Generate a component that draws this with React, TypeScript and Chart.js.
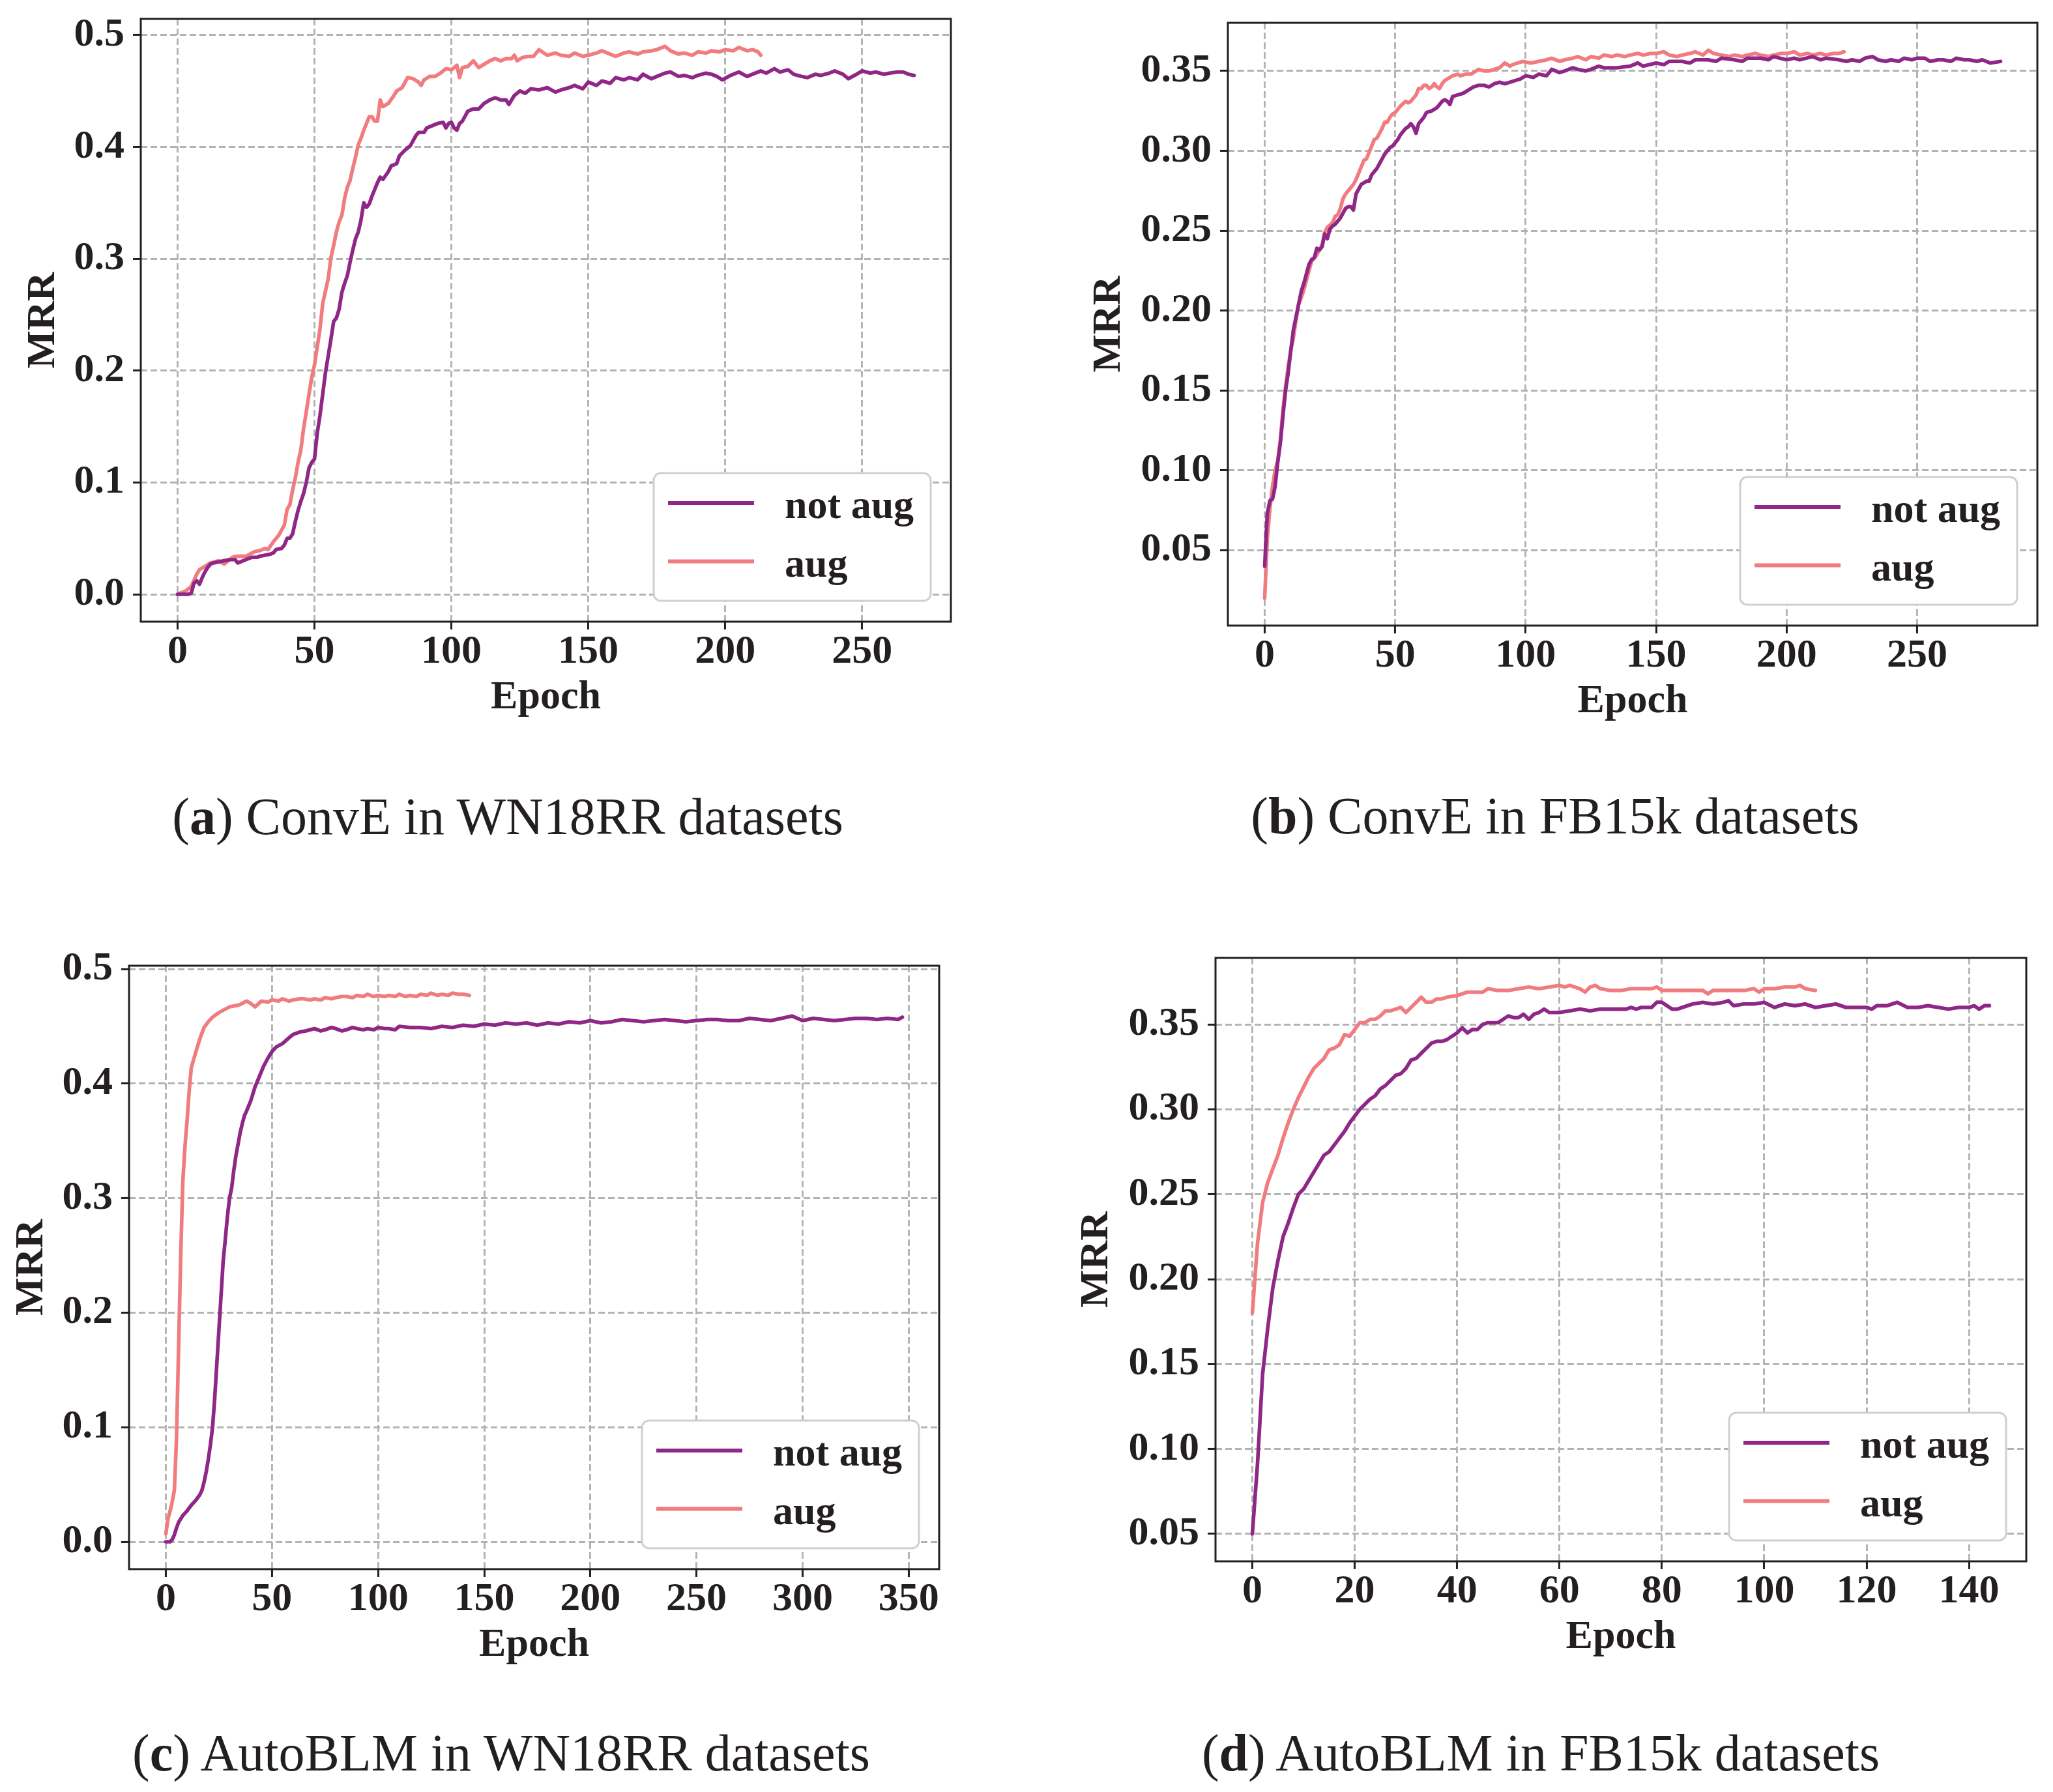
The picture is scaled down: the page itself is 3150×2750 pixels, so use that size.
import { useEffect, useRef } from 'react'
import Chart from 'chart.js/auto'

// ---------- data: [epoch, MRR] ----------

const convEWnNotAug: [number, number][] = [
  [0, 0], [2, 0], [4, 0], [5, 0.001], [6, 0.01], [7, 0.012], [8, 0.009], [9, 0.015], [10, 0.02], [11, 0.024],
  [12, 0.027], [13, 0.028], [15, 0.029], [17, 0.03], [19, 0.031], [21, 0.031], [22, 0.028], [23, 0.029], [25, 0.031],
  [27, 0.033], [29, 0.033], [30, 0.034], [32, 0.035], [34, 0.036], [35, 0.037], [36, 0.04], [38, 0.041], [39, 0.044],
  [40, 0.05], [41, 0.05], [42, 0.054], [43, 0.065], [44, 0.075], [45, 0.083], [46, 0.09], [47, 0.1], [48, 0.113],
  [49, 0.118], [50, 0.121], [51, 0.144], [52, 0.16], [53, 0.179], [54, 0.198], [55, 0.213], [56, 0.228], [57, 0.244],
  [58, 0.247], [59, 0.255], [60, 0.27], [61, 0.278], [62, 0.285], [63, 0.297], [64, 0.308], [65, 0.318], [66, 0.324],
  [67, 0.335], [68, 0.35], [69, 0.346], [70, 0.349], [71, 0.356], [72, 0.362], [73, 0.368], [74, 0.373], [75, 0.371],
  [77, 0.378], [78, 0.383], [80, 0.385], [81, 0.392], [83, 0.397], [85, 0.401], [87, 0.41], [88, 0.413], [90, 0.413],
  [91, 0.417], [93, 0.419], [95, 0.421], [97, 0.422], [98, 0.417], [99, 0.421], [100, 0.422], [101, 0.417], [102, 0.415],
  [103, 0.421], [104, 0.423], [106, 0.432], [108, 0.434], [110, 0.434], [112, 0.439], [114, 0.442], [116, 0.444],
  [118, 0.442], [120, 0.442], [121, 0.438], [123, 0.446], [125, 0.45], [127, 0.448], [129, 0.452], [132, 0.451],
  [135, 0.453], [138, 0.449], [140, 0.451], [143, 0.453], [145, 0.455], [148, 0.452], [150, 0.458], [153, 0.455],
  [155, 0.459], [158, 0.457], [160, 0.462], [163, 0.46], [165, 0.462], [168, 0.46], [170, 0.465], [173, 0.461],
  [175, 0.463], [178, 0.466], [180, 0.467], [183, 0.463], [185, 0.464], [188, 0.462], [190, 0.464], [193, 0.466],
  [195, 0.465], [197, 0.463], [199, 0.46], [202, 0.464], [205, 0.467], [208, 0.463], [210, 0.465], [213, 0.468],
  [215, 0.466], [218, 0.47], [220, 0.467], [223, 0.469], [225, 0.465], [228, 0.463], [230, 0.462], [233, 0.465],
  [235, 0.464], [238, 0.466], [240, 0.468], [243, 0.465], [245, 0.461], [248, 0.465], [250, 0.468], [253, 0.466],
  [255, 0.467], [258, 0.465], [260, 0.466], [263, 0.467], [265, 0.467], [267, 0.465], [269, 0.464],
]

const convEWnAug: [number, number][] = [
  [0, 0], [3, 0.003], [5, 0.007], [7, 0.018], [8, 0.022], [10, 0.025], [12, 0.028], [15, 0.03], [17, 0.027],
  [20, 0.033], [22, 0.034], [25, 0.034], [28, 0.038], [30, 0.039], [32, 0.041], [33, 0.04], [35, 0.047], [37, 0.053],
  [39, 0.062], [40, 0.076], [41, 0.08], [42, 0.093], [43, 0.104], [44, 0.118], [45, 0.129], [46, 0.148], [47, 0.163],
  [48, 0.179], [49, 0.194], [50, 0.205], [51, 0.221], [52, 0.237], [53, 0.26], [54, 0.271], [55, 0.282], [56, 0.301],
  [57, 0.312], [58, 0.324], [59, 0.333], [60, 0.339], [61, 0.354], [62, 0.364], [63, 0.37], [64, 0.381], [65, 0.391],
  [66, 0.402], [67, 0.408], [68, 0.415], [70, 0.427], [71, 0.427], [72, 0.423], [73, 0.423], [74, 0.442], [75, 0.436],
  [77, 0.439], [79, 0.446], [80, 0.45], [82, 0.453], [84, 0.462], [86, 0.461], [88, 0.458], [89, 0.455], [90, 0.46],
  [92, 0.463], [94, 0.463], [96, 0.466], [98, 0.47], [100, 0.469], [101, 0.471], [102, 0.473], [103, 0.462],
  [104, 0.471], [106, 0.472], [108, 0.477], [110, 0.471], [112, 0.474], [114, 0.477], [116, 0.479], [118, 0.477],
  [120, 0.479], [122, 0.479], [123, 0.482], [124, 0.477], [126, 0.48], [128, 0.481], [130, 0.481], [132, 0.487],
  [135, 0.482], [138, 0.484], [140, 0.482], [143, 0.481], [145, 0.484], [148, 0.481], [150, 0.482], [153, 0.484],
  [155, 0.486], [158, 0.483], [160, 0.481], [163, 0.484], [165, 0.485], [168, 0.483], [170, 0.485], [173, 0.486],
  [175, 0.487], [178, 0.49], [180, 0.486], [183, 0.483], [185, 0.484], [188, 0.482], [190, 0.485], [193, 0.484],
  [195, 0.486], [198, 0.485], [200, 0.487], [203, 0.486], [205, 0.489], [208, 0.486], [210, 0.487], [212, 0.485],
  [213, 0.482],
]

const convEFbNotAug: [number, number][] = [
  [0, 0.04], [1, 0.073], [2, 0.081], [3, 0.082], [4, 0.09], [5, 0.105], [6, 0.117], [7, 0.134], [8, 0.15], [9, 0.161],
  [10, 0.175], [11, 0.188], [12, 0.196], [13, 0.204], [14, 0.212], [15, 0.217], [16, 0.223], [17, 0.229], [18, 0.232],
  [19, 0.233], [20, 0.239], [21, 0.238], [22, 0.24], [23, 0.248], [24, 0.245], [25, 0.251], [26, 0.253], [27, 0.254],
  [28, 0.256], [29, 0.258], [30, 0.261], [31, 0.264], [32, 0.265], [33, 0.265], [34, 0.263], [35, 0.273], [36, 0.276],
  [37, 0.279], [38, 0.28], [39, 0.281], [40, 0.281], [41, 0.285], [42, 0.287], [43, 0.289], [44, 0.292], [45, 0.295],
  [46, 0.298], [47, 0.3], [48, 0.302], [49, 0.303], [50, 0.305], [51, 0.307], [52, 0.31], [53, 0.312], [54, 0.314],
  [55, 0.315], [56, 0.317], [57, 0.315], [58, 0.311], [59, 0.317], [60, 0.319], [61, 0.321], [62, 0.324], [64, 0.325],
  [66, 0.327], [67, 0.329], [68, 0.331], [69, 0.332], [70, 0.331], [71, 0.329], [72, 0.334], [74, 0.335], [76, 0.336],
  [77, 0.337], [78, 0.338], [80, 0.34], [82, 0.341], [84, 0.341], [86, 0.34], [88, 0.342], [90, 0.343], [92, 0.342],
  [94, 0.343], [96, 0.344], [98, 0.345], [100, 0.347], [103, 0.346], [105, 0.348], [108, 0.347], [110, 0.351],
  [113, 0.349], [115, 0.35], [118, 0.352], [120, 0.351], [123, 0.35], [125, 0.351], [128, 0.353], [130, 0.352],
  [135, 0.352], [140, 0.353], [143, 0.355], [145, 0.353], [150, 0.355], [153, 0.354], [155, 0.356], [160, 0.356],
  [163, 0.355], [165, 0.357], [170, 0.357], [173, 0.356], [175, 0.358], [180, 0.357], [183, 0.356], [185, 0.358],
  [190, 0.358], [193, 0.357], [195, 0.359], [200, 0.357], [203, 0.358], [205, 0.357], [210, 0.359], [213, 0.357],
  [215, 0.358], [220, 0.357], [223, 0.356], [225, 0.357], [228, 0.356], [230, 0.358], [233, 0.359], [235, 0.357],
  [238, 0.356], [240, 0.357], [243, 0.356], [245, 0.358], [248, 0.357], [250, 0.358], [253, 0.358], [255, 0.356],
  [258, 0.357], [260, 0.357], [263, 0.356], [265, 0.358], [268, 0.357], [270, 0.357], [273, 0.356], [275, 0.357],
  [278, 0.355], [282, 0.356],
]

const convEFbAug: [number, number][] = [
  [0, 0.02], [1, 0.057], [2, 0.076], [3, 0.09], [4, 0.1], [5, 0.106], [6, 0.119], [7, 0.138], [8, 0.152], [9, 0.165],
  [10, 0.175], [11, 0.183], [12, 0.194], [13, 0.204], [14, 0.208], [15, 0.213], [16, 0.219], [17, 0.225], [18, 0.231],
  [20, 0.235], [21, 0.238], [22, 0.241], [23, 0.249], [24, 0.252], [26, 0.255], [27, 0.259], [28, 0.26], [29, 0.264],
  [30, 0.27], [31, 0.273], [32, 0.275], [33, 0.277], [34, 0.279], [35, 0.282], [36, 0.286], [37, 0.29], [38, 0.294],
  [39, 0.295], [40, 0.299], [41, 0.303], [42, 0.307], [43, 0.308], [44, 0.311], [45, 0.314], [46, 0.318], [47, 0.318],
  [48, 0.321], [49, 0.323], [50, 0.324], [52, 0.328], [54, 0.331], [55, 0.33], [56, 0.331], [57, 0.333], [58, 0.335],
  [59, 0.339], [60, 0.339], [61, 0.341], [62, 0.341], [63, 0.339], [64, 0.34], [65, 0.342], [66, 0.34], [67, 0.339],
  [68, 0.342], [69, 0.344], [70, 0.345], [72, 0.347], [74, 0.348], [75, 0.347], [77, 0.348], [79, 0.348], [80, 0.349],
  [82, 0.351], [84, 0.35], [86, 0.35], [88, 0.351], [90, 0.352], [92, 0.355], [94, 0.353], [95, 0.354], [97, 0.355],
  [99, 0.356], [102, 0.355], [105, 0.356], [108, 0.357], [110, 0.358], [113, 0.356], [115, 0.357], [118, 0.358],
  [120, 0.359], [123, 0.357], [125, 0.359], [128, 0.358], [130, 0.36], [133, 0.359], [135, 0.36], [138, 0.359],
  [140, 0.36], [143, 0.361], [145, 0.36], [148, 0.361], [150, 0.361], [153, 0.362], [155, 0.36], [158, 0.359],
  [160, 0.36], [163, 0.361], [165, 0.362], [168, 0.36], [170, 0.363], [172, 0.361], [175, 0.36], [178, 0.359],
  [180, 0.36], [183, 0.359], [185, 0.36], [188, 0.361], [190, 0.36], [193, 0.359], [195, 0.36], [198, 0.361],
  [200, 0.361], [203, 0.362], [205, 0.36], [208, 0.361], [210, 0.36], [213, 0.361], [215, 0.36], [218, 0.361],
  [220, 0.361], [222, 0.362],
]

const autoBlmWnNotAug: [number, number][] = [
  [0, 0], [2, 0], [3, 0.002], [4, 0.006], [5, 0.012], [6, 0.017], [8, 0.023], [10, 0.027], [12, 0.032], [14, 0.036],
  [16, 0.041], [17, 0.045], [18, 0.052], [19, 0.061], [20, 0.072], [21, 0.085], [22, 0.1], [23, 0.125], [24, 0.155],
  [25, 0.185], [26, 0.215], [27, 0.245], [28, 0.264], [29, 0.284], [30, 0.3], [31, 0.309], [32, 0.324], [33, 0.337],
  [34, 0.347], [35, 0.357], [36, 0.365], [37, 0.372], [38, 0.376], [40, 0.385], [42, 0.397], [44, 0.406], [46, 0.415],
  [48, 0.422], [50, 0.428], [52, 0.432], [55, 0.435], [58, 0.44], [60, 0.443], [63, 0.445], [66, 0.446], [70, 0.448],
  [73, 0.446], [75, 0.447], [78, 0.449], [80, 0.448], [83, 0.446], [85, 0.447], [88, 0.449], [90, 0.448], [93, 0.447],
  [95, 0.448], [98, 0.447], [100, 0.449], [103, 0.448], [105, 0.448], [108, 0.447], [110, 0.45], [115, 0.449],
  [120, 0.449], [125, 0.448], [130, 0.45], [135, 0.449], [140, 0.451], [145, 0.45], [150, 0.452], [155, 0.451],
  [160, 0.453], [165, 0.452], [170, 0.453], [175, 0.451], [180, 0.453], [185, 0.452], [190, 0.454], [195, 0.453],
  [200, 0.455], [205, 0.453], [210, 0.454], [215, 0.456], [220, 0.455], [225, 0.454], [230, 0.455], [235, 0.456],
  [240, 0.455], [245, 0.454], [250, 0.455], [255, 0.456], [260, 0.456], [265, 0.455], [270, 0.455], [275, 0.457],
  [280, 0.456], [285, 0.455], [290, 0.457], [295, 0.459], [300, 0.455], [305, 0.457], [310, 0.456], [315, 0.455],
  [320, 0.456], [325, 0.457], [330, 0.457], [335, 0.456], [340, 0.457], [345, 0.456], [347, 0.458],
]

const autoBlmWnAug: [number, number][] = [
  [0, 0.007], [1, 0.02], [2, 0.027], [3, 0.035], [4, 0.045], [5, 0.09], [6, 0.17], [7, 0.25], [8, 0.315], [9, 0.345],
  [10, 0.368], [11, 0.394], [12, 0.414], [14, 0.427], [16, 0.439], [18, 0.449], [20, 0.454], [22, 0.458], [25, 0.462],
  [28, 0.465], [30, 0.467], [33, 0.468], [35, 0.469], [38, 0.472], [40, 0.47], [42, 0.467], [45, 0.472], [48, 0.471],
  [50, 0.473], [53, 0.472], [55, 0.474], [58, 0.472], [60, 0.473], [63, 0.474], [65, 0.474], [68, 0.473], [70, 0.474],
  [73, 0.473], [75, 0.475], [78, 0.474], [80, 0.475], [83, 0.476], [85, 0.476], [88, 0.475], [90, 0.477], [93, 0.476],
  [95, 0.478], [98, 0.476], [100, 0.477], [103, 0.476], [105, 0.477], [108, 0.476], [110, 0.478], [113, 0.476],
  [115, 0.477], [118, 0.476], [120, 0.478], [123, 0.477], [125, 0.479], [128, 0.477], [130, 0.478], [133, 0.477],
  [135, 0.479], [138, 0.478], [140, 0.478], [143, 0.477],
]

const autoBlmFbNotAug: [number, number][] = [
  [0, 0.05], [1, 0.091], [2, 0.144], [3, 0.171], [4, 0.195], [5, 0.211], [6, 0.225], [7, 0.233], [8, 0.242], [9, 0.25],
  [10, 0.253], [11, 0.258], [12, 0.263], [13, 0.268], [14, 0.273], [15, 0.275], [16, 0.279], [17, 0.283], [18, 0.287],
  [19, 0.292], [20, 0.296], [21, 0.3], [22, 0.303], [23, 0.306], [24, 0.308], [25, 0.312], [26, 0.314], [27, 0.317],
  [28, 0.32], [29, 0.321], [30, 0.324], [31, 0.329], [32, 0.33], [33, 0.333], [34, 0.336], [35, 0.339], [36, 0.34],
  [37, 0.34], [38, 0.341], [39, 0.343], [40, 0.345], [41, 0.348], [42, 0.345], [43, 0.347], [44, 0.347], [45, 0.35],
  [46, 0.351], [47, 0.351], [48, 0.351], [49, 0.353], [50, 0.355], [51, 0.354], [52, 0.354], [53, 0.356], [54, 0.353],
  [55, 0.356], [56, 0.357], [57, 0.359], [58, 0.357], [59, 0.357], [60, 0.357], [62, 0.358], [64, 0.359], [66, 0.358],
  [68, 0.359], [70, 0.359], [72, 0.359], [73, 0.359], [74, 0.36], [75, 0.359], [76, 0.36], [78, 0.36], [79, 0.363],
  [80, 0.363], [82, 0.359], [83, 0.359], [84, 0.36], [86, 0.362], [88, 0.363], [90, 0.362], [92, 0.363], [93, 0.364],
  [94, 0.361], [96, 0.362], [98, 0.362], [100, 0.363], [102, 0.36], [104, 0.362], [106, 0.361], [108, 0.362],
  [110, 0.36], [112, 0.361], [114, 0.362], [116, 0.36], [118, 0.36], [120, 0.36], [121, 0.359], [122, 0.361],
  [124, 0.361], [125, 0.362], [126, 0.363], [128, 0.36], [130, 0.36], [132, 0.361], [134, 0.36], [136, 0.359],
  [138, 0.36], [140, 0.36], [141, 0.361], [142, 0.359], [143, 0.361], [144, 0.361],
]

const autoBlmFbAug: [number, number][] = [
  [0, 0.18], [1, 0.221], [2, 0.245], [3, 0.257], [4, 0.265], [5, 0.273], [6, 0.283], [7, 0.292], [8, 0.3], [9, 0.307],
  [10, 0.313], [11, 0.319], [12, 0.324], [13, 0.327], [14, 0.33], [15, 0.335], [16, 0.336], [17, 0.338], [18, 0.344],
  [19, 0.343], [20, 0.347], [21, 0.351], [22, 0.351], [23, 0.353], [24, 0.353], [25, 0.355], [26, 0.358], [27, 0.358],
  [28, 0.359], [29, 0.36], [30, 0.357], [31, 0.36], [32, 0.363], [33, 0.366], [34, 0.363], [35, 0.363], [36, 0.365],
  [37, 0.365], [38, 0.366], [40, 0.367], [42, 0.369], [43, 0.369], [44, 0.369], [45, 0.369], [46, 0.371], [48, 0.37],
  [50, 0.37], [52, 0.371], [54, 0.372], [56, 0.371], [58, 0.372], [60, 0.373], [61, 0.372], [62, 0.373], [64, 0.371],
  [65, 0.369], [66, 0.372], [67, 0.373], [68, 0.371], [70, 0.37], [72, 0.37], [74, 0.371], [76, 0.371], [78, 0.371],
  [79, 0.372], [80, 0.37], [82, 0.37], [84, 0.37], [86, 0.37], [88, 0.37], [89, 0.368], [90, 0.37], [92, 0.37],
  [94, 0.37], [96, 0.37], [98, 0.371], [99, 0.369], [100, 0.371], [102, 0.371], [104, 0.372], [106, 0.372],
  [107, 0.373], [108, 0.371], [110, 0.37],
]

const epochTicksConvE = [0, 50, 100, 150, 200, 250]
const epochTicksAutoBlmWn = [0, 50, 100, 150, 200, 250, 300, 350]
const epochTicksAutoBlmFb = [0, 20, 40, 60, 80, 100, 120, 140]
const mrrTicksWn = [0, 0.1, 0.2, 0.3, 0.4, 0.5]
const mrrTicksFb = [0.05, 0.1, 0.15, 0.2, 0.25, 0.3, 0.35]

const seriesLabels = ['not aug', 'aug']

// ---------- styles ----------

const SERIF = "'Liberation Serif', 'Times New Roman', serif"
const INK = '#231f20'
const NOT_AUG_COLOR = '#8e2786'
const AUG_COLOR = '#f17c80'
const GRID_COLOR = '#b3b3b3'
const tickFont = { family: SERIF, size: 62, weight: 'bold' as const }

const PAD_TOP = 20
const PAD_RIGHT = 20
const PAD_BOTTOM = 10
const X_AXIS_H = 154

const panels = [
  {
    key: 'a', letter: 'a', caption: ' ConvE in WN18RR datasets',
    plot: { left: 216, top: 29, right: 1459, bottom: 954 }, yAxisW: 186,
    xRange: [-13.45, 282.45], xTicks: epochTicksConvE,
    yRange: [-0.0245, 0.5145], yTicks: mrrTicksWn, decimals: 1,
    series: [convEWnNotAug, convEWnAug],
    captionX: 779, captionBaseline: 1280,
  },
  {
    key: 'b', letter: 'b', caption: ' ConvE in FB15k datasets',
    plot: { left: 1884, top: 35, right: 3126, bottom: 960 }, yAxisW: 219,
    xRange: [-14.1, 296.1], xTicks: epochTicksConvE,
    yRange: [0.00285, 0.38015], yTicks: mrrTicksFb, decimals: 2,
    series: [convEFbNotAug, convEFbAug],
    captionX: 2386, captionBaseline: 1279,
  },
  {
    key: 'c', letter: 'c', caption: ' AutoBLM in WN18RR datasets',
    plot: { left: 198, top: 1482, right: 1441, bottom: 2408 }, yAxisW: 186,
    xRange: [-17.35, 364.35], xTicks: epochTicksAutoBlmWn,
    yRange: [-0.0239, 0.5029], yTicks: mrrTicksWn, decimals: 1,
    series: [autoBlmWnNotAug, autoBlmWnAug],
    captionX: 769, captionBaseline: 2717,
  },
  {
    key: 'd', letter: 'd', caption: ' AutoBLM in FB15k datasets',
    plot: { left: 1865, top: 1470, right: 3109, bottom: 2396 }, yAxisW: 219,
    xRange: [-7.2, 151.2], xTicks: epochTicksAutoBlmFb,
    yRange: [0.03385, 0.38915], yTicks: mrrTicksFb, decimals: 2,
    series: [autoBlmFbNotAug, autoBlmFbAug],
    captionX: 2364, captionBaseline: 2717,
  },
]

type Panel = (typeof panels)[number]

// legend box in the lower right corner of the axes, like matplotlib's loc='lower right'
const insideLegend = {
  id: 'insideLegend',
  afterDatasetsDraw(chart: any) {
    const { ctx, chartArea } = chart
    const w = 425
    const h = 196
    const x = chartArea.right - 31 - w
    const y = chartArea.bottom - 32 - h
    const r = 11
    ctx.save()
    ctx.beginPath()
    ctx.moveTo(x + r, y)
    ctx.arcTo(x + w, y, x + w, y + h, r)
    ctx.arcTo(x + w, y + h, x, y + h, r)
    ctx.arcTo(x, y + h, x, y, r)
    ctx.arcTo(x, y, x + w, y, r)
    ctx.closePath()
    ctx.fillStyle = '#ffffff'
    ctx.fill()
    ctx.lineWidth = 3
    ctx.strokeStyle = '#cfcfcf'
    ctx.stroke()
    chart.data.datasets.forEach((ds: any, i: number) => {
      const rowY = y + 46 + i * 89.5
      ctx.beginPath()
      ctx.moveTo(x + 22, rowY)
      ctx.lineTo(x + 154, rowY)
      ctx.lineWidth = 6
      ctx.strokeStyle = ds.borderColor
      ctx.stroke()
      ctx.font = `bold 62px ${SERIF}`
      ctx.fillStyle = INK
      ctx.textAlign = 'left'
      ctx.textBaseline = 'alphabetic'
      ctx.fillText(ds.label, x + 201, rowY + 23)
    })
    ctx.restore()
  },
}

const axesFrame = {
  id: 'axesFrame',
  afterDraw(chart: any) {
    const { ctx, chartArea } = chart
    ctx.save()
    ctx.lineWidth = 3
    ctx.strokeStyle = INK
    ctx.strokeRect(chartArea.left, chartArea.top, chartArea.right - chartArea.left, chartArea.bottom - chartArea.top)
    ctx.restore()
  },
}

const gridOptions = {
  color: GRID_COLOR,
  lineWidth: 2.9,
  borderDash: [10, 5],
  drawTicks: true,
  tickLength: 12,
  tickColor: INK,
  tickWidth: 3,
  tickBorderDash: [],
}

function MrrPanel({ panel }: { panel: Panel }) {
  const chartRef = useRef<HTMLCanvasElement>(null)
  const chartInstance = useRef<Chart | null>(null)

  const { plot, yAxisW } = panel
  const canvasLeft = plot.left - yAxisW
  const canvasTop = plot.top - PAD_TOP
  const canvasW = yAxisW + (plot.right - plot.left) + PAD_RIGHT
  const canvasH = PAD_TOP + (plot.bottom - plot.top) + X_AXIS_H + PAD_BOTTOM

  useEffect(() => {
    if (!chartRef.current) return
    if (chartInstance.current) chartInstance.current.destroy()

    chartInstance.current = new Chart(chartRef.current, {
      type: 'line',
      data: {
        datasets: panel.series.map((points, i) => ({
          label: seriesLabels[i],
          data: points.map(([x, y]) => ({ x, y })),
          borderColor: i === 0 ? NOT_AUG_COLOR : AUG_COLOR,
          borderWidth: 5.6,
          pointRadius: 0,
          tension: 0,
          fill: false,
          borderJoinStyle: 'round',
          borderCapStyle: 'round',
        })),
      },
      options: {
        responsive: false,
        animation: false,
        devicePixelRatio: 1,
        layout: { padding: { left: 0, top: PAD_TOP, right: PAD_RIGHT, bottom: PAD_BOTTOM } },
        plugins: { legend: { display: false }, tooltip: { enabled: false } },
        scales: {
          x: {
            type: 'linear',
            min: panel.xRange[0],
            max: panel.xRange[1],
            afterBuildTicks: (s: any) => { s.ticks = panel.xTicks.map((v) => ({ value: v })) },
            afterFit: (s: any) => { s.height = X_AXIS_H; s.paddingLeft = 0; s.paddingRight = 0 },
            ticks: {
              font: tickFont, color: INK, padding: -2, autoSkip: false, maxRotation: 0, minRotation: 0,
              callback: (v: any) => String(v),
            },
            grid: gridOptions,
            border: { display: false, dash: [10, 5] },
            title: { display: true, text: 'Epoch', font: tickFont, color: INK, padding: 0 },
          },
          y: {
            type: 'linear',
            min: panel.yRange[0],
            max: panel.yRange[1],
            afterBuildTicks: (s: any) => { s.ticks = panel.yTicks.map((v) => ({ value: v })) },
            afterFit: (s: any) => { s.width = yAxisW; s.paddingTop = 0; s.paddingBottom = 0 },
            ticks: {
              font: tickFont, color: INK, padding: 13, autoSkip: false,
              callback: (v: any) => Number(v).toFixed(panel.decimals),
            },
            grid: gridOptions,
            border: { display: false, dash: [10, 5] },
            title: { display: true, text: 'MRR', font: tickFont, color: INK, padding: 0 },
          },
        },
      } as any,
      plugins: [insideLegend, axesFrame],
    })

    return () => {
      if (chartInstance.current) {
        chartInstance.current.destroy()
        chartInstance.current = null
      }
    }
  }, [])

  return (
    <>
      <canvas
        ref={chartRef}
        width={canvasW}
        height={canvasH}
        style={{ position: 'absolute', left: canvasLeft, top: canvasTop, width: canvasW, height: canvasH }}
      />
      <div
        style={{
          position: 'absolute',
          left: panel.captionX - 900,
          top: panel.captionBaseline - 67,
          width: 1800,
          textAlign: 'center',
          font: `80px/80px ${SERIF}`,
          color: INK,
          whiteSpace: 'nowrap',
        }}
      >
        (<b>{panel.letter}</b>){panel.caption}
      </div>
    </>
  )
}

export default function App() {
  return (
    <div style={{ position: 'absolute', left: 0, top: 0, width: 3150, height: 2750, background: '#fff', overflow: 'hidden' }}>
      {panels.map((p) => <MrrPanel key={p.key} panel={p} />)}
    </div>
  )
}
